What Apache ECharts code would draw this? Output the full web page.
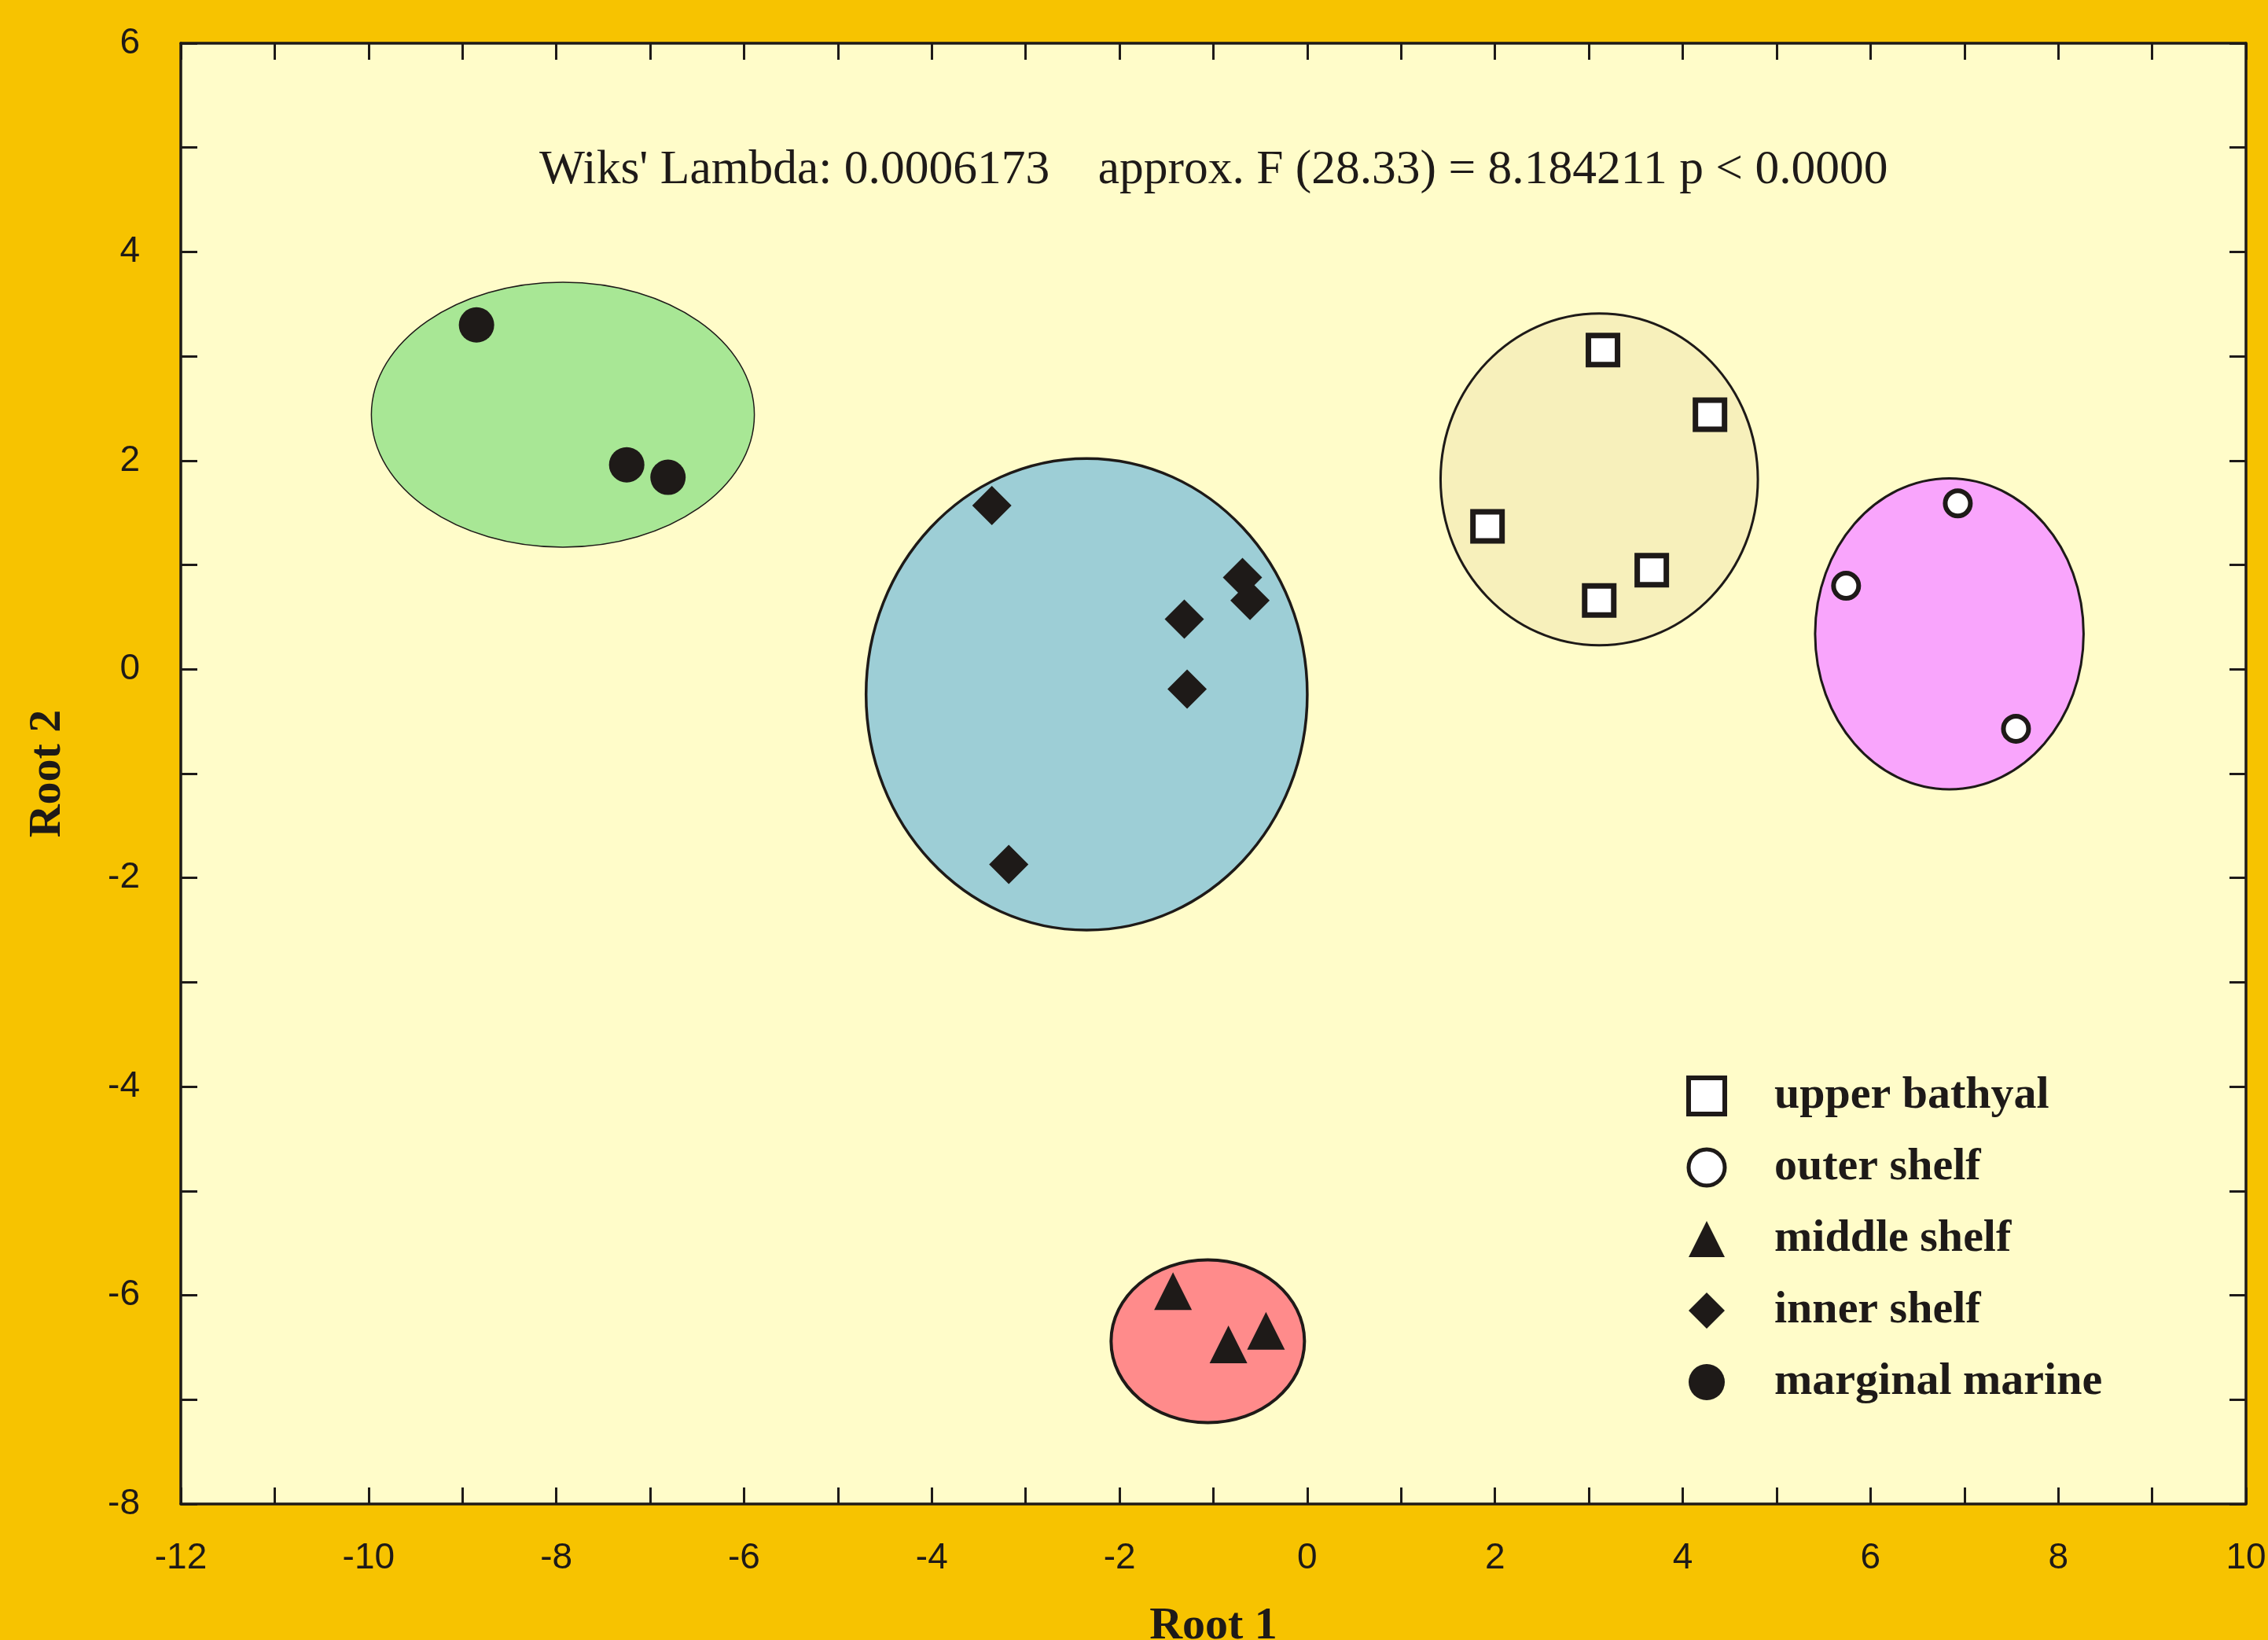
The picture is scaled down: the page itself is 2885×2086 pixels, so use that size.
<!DOCTYPE html>
<html>
<head>
<meta charset="utf-8">
<script src="https://cdn.jsdelivr.net/npm/echarts@6/dist/echarts.min.js"></script>
<style>
  html, body { margin: 0; padding: 0; background: #f7c300; }
  #chart { width: 2885px; height: 2086px; }
</style>
</head>
<body>
<div id="chart"></div>
<script>
// group names (legend order)
var groupNames = ["upper bathyal", "outer shelf", "middle shelf", "inner shelf", "marginal marine"];

// discriminant scores [root1, root2]
var upperBathyal = [[3.15, 3.06], [4.29, 2.44], [1.92, 1.37], [3.67, 0.95], [3.11, 0.66]];
var outerShelf = [[6.93, 1.59], [5.74, 0.80], [7.55, -0.57]];
var middleShelf = [[-1.43, -5.96], [-0.84, -6.47], [-0.44, -6.34]];
var innerShelf = [[-3.36, 1.57], [-0.69, 0.88], [-0.61, 0.66], [-1.31, 0.48], [-1.28, -0.19], [-3.18, -1.87]];
var marginalMarine = [[-8.85, 3.30], [-7.25, 1.96], [-6.81, 1.84]];

// group ellipses [centre root1, centre root2, half width, half height]
var ellipseData = [
  [-7.93, 2.44, 2.04, 1.27],
  [-2.35, -0.24, 2.35, 2.26],
  [3.11, 1.82, 1.69, 1.59],
  [6.84, 0.34, 1.43, 1.49],
  [-1.06, -6.44, 1.03, 0.78]
];

// axis ranges
var xRange = [-12, 10];
var yRange = [-8, 6];

var statsText = "Wiks' Lambda: 0.0006173    approx. F (28.33) = 8.184211 p < 0.0000";

var ink = "#1e1a18";
var ellipseFill = ["#a8e795", "#9dced6", "#f7f0bb", "#f9a5fc", "#ff8b8b"];
var ellipseLine = [1.5, 3.5, 3, 3, 4];

var myChart = echarts.init(document.getElementById("chart"));

function axisBase(pos, showLabel) {
  return {
    type: "value",
    position: pos,
    interval: 2,
    axisLine: { show: true, onZero: false, lineStyle: { color: ink, width: 3.5 } },
    axisTick: { show: true, inside: true, length: 21, lineStyle: { color: ink, width: 3 } },
    minorTick: { show: true, splitNumber: 2, length: 21, lineStyle: { color: ink, width: 3 } },
    splitLine: { show: false },
    axisLabel: {
      show: showLabel,
      color: ink,
      fontFamily: "Liberation Sans",
      fontSize: 46
    }
  };
}

var xBottom = axisBase("bottom", true);
xBottom.min = xRange[0];
xBottom.max = xRange[1];
xBottom.axisLabel.margin = 46;
xBottom.name = "Root 1";
xBottom.nameLocation = "middle";
xBottom.nameGap = 127;
xBottom.nameTextStyle = { color: ink, fontFamily: "Liberation Serif", fontWeight: "bold", fontSize: 58 };

var xTop = axisBase("top", false);
xTop.min = xRange[0];
xTop.max = xRange[1];

var yLeft = axisBase("left", true);
yLeft.min = yRange[0];
yLeft.max = yRange[1];
yLeft.axisLabel.margin = 52;
yLeft.name = "Root 2";
yLeft.nameLocation = "middle";
yLeft.nameGap = 140;
yLeft.nameTextStyle = { color: ink, fontFamily: "Liberation Serif", fontWeight: "bold", fontSize: 58 };

var yRight = axisBase("right", false);
yRight.min = yRange[0];
yRight.max = yRange[1];

var option = {
  backgroundColor: "#f7c300",
  animation: false,
  grid: {
    left: 230,
    right: 28,
    top: 55,
    bottom: 173,
    outerBoundsMode: "none",
    show: true,
    backgroundColor: "#fffcc9",
    borderWidth: 0
  },
  xAxis: [xBottom, xTop],
  yAxis: [yLeft, yRight],
  graphic: [
    {
      type: "text",
      left: 686,
      top: 186,
      style: {
        text: statsText,
        fill: ink,
        font: "61.5px 'Liberation Serif'"
      }
    }
  ],
  legend: {
    orient: "vertical",
    left: 2140,
    top: 1360,
    itemWidth: 46,
    itemHeight: 46,
    itemGap: 33,
    textStyle: {
      color: ink,
      fontFamily: "Liberation Serif",
      fontWeight: "bold",
      fontSize: 58,
      padding: [0, 0, 0, 58]
    },
    data: [
      { name: groupNames[0], itemStyle: { borderWidth: 6 } },
      { name: groupNames[1], itemStyle: { borderWidth: 5 } },
      { name: groupNames[2] },
      { name: groupNames[3] },
      { name: groupNames[4] }
    ],
    selectedMode: false
  },
  series: [
    {
      name: "ellipses",
      type: "custom",
      z: 1,
      silent: true,
      data: ellipseData,
      renderItem: function (params, api) {
        var c = api.coord([api.value(0), api.value(1)]);
        var s = api.size([api.value(2), api.value(3)]);
        return {
          type: "ellipse",
          shape: { cx: c[0], cy: c[1], rx: s[0], ry: s[1] },
          style: {
            fill: ellipseFill[params.dataIndex],
            stroke: ink,
            lineWidth: ellipseLine[params.dataIndex]
          }
        };
      }
    },
    {
      name: groupNames[0],
      type: "scatter",
      z: 3,
      symbol: "rect",
      symbolSize: 37,
      itemStyle: { color: "#ffffff", borderColor: ink, borderWidth: 7, opacity: 1 },
      data: upperBathyal
    },
    {
      name: groupNames[1],
      type: "scatter",
      z: 3,
      symbol: "circle",
      symbolSize: 32,
      itemStyle: { color: "#ffffff", borderColor: ink, borderWidth: 6, opacity: 1 },
      data: outerShelf
    },
    {
      name: groupNames[2],
      type: "scatter",
      z: 3,
      symbol: "triangle",
      symbolSize: 48,
      itemStyle: { color: ink, opacity: 1 },
      data: middleShelf
    },
    {
      name: groupNames[3],
      type: "scatter",
      z: 3,
      symbol: "diamond",
      symbolSize: 50,
      itemStyle: { color: ink, opacity: 1 },
      data: innerShelf
    },
    {
      name: groupNames[4],
      type: "scatter",
      z: 3,
      symbol: "circle",
      symbolSize: 45,
      itemStyle: { color: ink, opacity: 1 },
      data: marginalMarine
    }
  ]
};

myChart.setOption(option);
</script>
</body>
</html>
